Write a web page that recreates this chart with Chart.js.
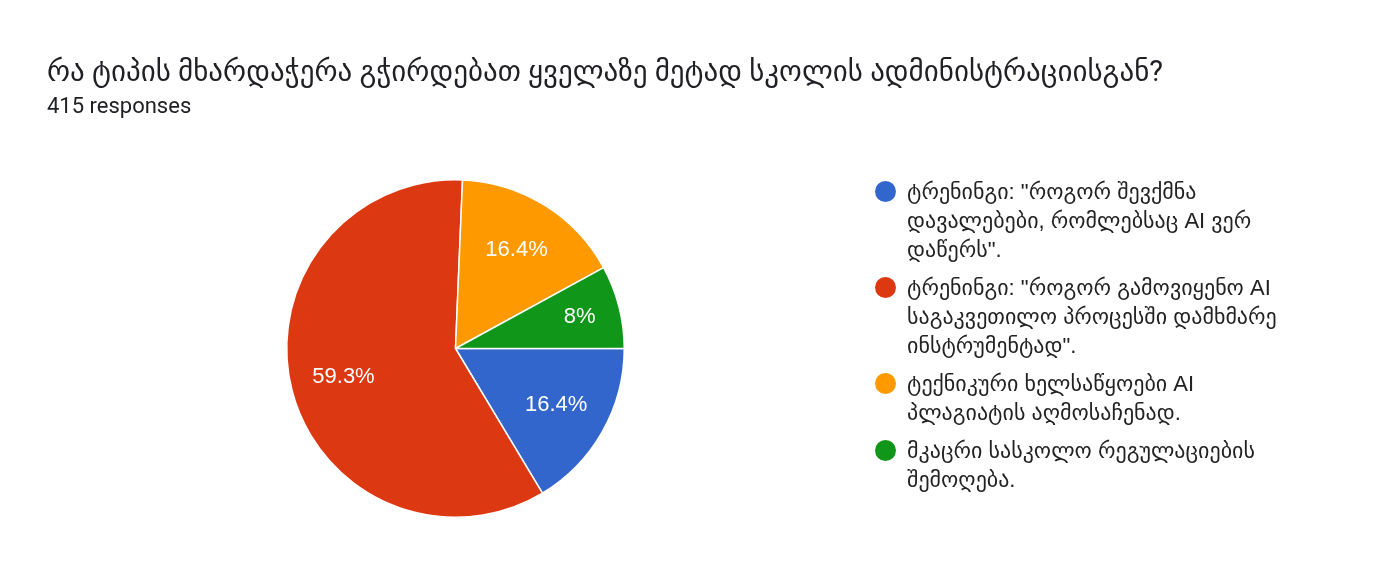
<!DOCTYPE html>
<html>
<head>
<meta charset="utf-8">
<script src="https://cdn.jsdelivr.net/npm/chart.js@4.4.1/dist/chart.umd.min.js"></script>
<style>
  html, body { margin: 0; padding: 0; background: #ffffff; width: 1384px; height: 584px; overflow: hidden; }
  body { font-family: Roboto, "DejaVu Sans", "Noto Sans", sans-serif; }
  #wrap { position: relative; width: 1384px; height: 584px; }
  #c { position: absolute; left: 0; top: 0; }
  #title { position: absolute; left: 47px; top: 51px; font-size: 29px; color: #202124; white-space: nowrap; line-height: 40px; }
  #sub { position: absolute; left: 47px; top: 93px; font-size: 22px; color: #202124; line-height: 26px; }
  #legend { position: absolute; left: 875px; top: 177px; margin: 0; padding: 0; list-style: none; }
  #legend li { position: relative; padding-left: 32px; margin-bottom: 9px; font-family: "Liberation Sans", Arial, "DejaVu Sans", sans-serif; font-size: 22px; line-height: 29px; color: #222222; }
  #legend li .dot { position: absolute; left: 0; top: 4px; width: 21px; height: 21px; border-radius: 50%; }
  #legend li .ln { display: block; white-space: nowrap; }
</style>
</head>
<body>
<div id="wrap">
  <canvas id="c" width="1384" height="584"></canvas>
  <div id="title"></div>
  <div id="sub"></div>
  <ul id="legend"></ul>
</div>
<script>
const titleText = 'რა ტიპის მხარდაჭერა გჭირდებათ ყველაზე მეტად სკოლის ადმინისტრაციისგან?';
const subtitleText = '415 responses';
const categories = [
  ['ტრენინგი: "როგორ შევქმნა', 'დავალებები, რომლებსაც AI ვერ', 'დაწერს".'],
  ['ტრენინგი: "როგორ გამოვიყენო AI', 'საგაკვეთილო პროცესში დამხმარე', 'ინსტრუმენტად".'],
  ['ტექნიკური ხელსაწყოები AI', 'პლაგიატის აღმოსაჩენად.'],
  ['მკაცრი სასკოლო რეგულაციების', 'შემოღება.']
];
const values = [68, 246, 68, 33];
const colors = ['#3366cc', '#dc3912', '#ff9900', '#109618'];

document.getElementById('title').textContent = titleText;
document.getElementById('sub').textContent = subtitleText;

const total = values.reduce((a, b) => a + b, 0);
function pctLabel(v) {
  let s = (v / total * 100).toFixed(1);
  if (s.endsWith('.0')) s = s.slice(0, -2);
  return s + '%';
}

const sliceLabels = {
  id: 'sliceLabels',
  afterDatasetsDraw(chart) {
    const ctx = chart.ctx;
    const meta = chart.getDatasetMeta(0);
    ctx.save();
    ctx.fillStyle = '#ffffff';
    ctx.font = '22px "Liberation Sans", Arial, sans-serif';
    ctx.textAlign = 'center';
    ctx.textBaseline = 'middle';
    meta.data.forEach((arc, i) => {
      const p = arc.getProps(['x', 'y', 'startAngle', 'endAngle', 'outerRadius'], true);
      const span = p.endAngle - p.startAngle;
      const mid = (p.startAngle + p.endAngle) / 2;
      const f = span < 0.1 * Math.PI * 2 ? 0.76 : 0.685;
      const x = p.x + Math.cos(mid) * p.outerRadius * f;
      const y = p.y + Math.sin(mid) * p.outerRadius * f;
      ctx.fillText(pctLabel(chart.data.datasets[0].data[i]), x, y);
    });
    ctx.restore();
  }
};

const chart = new Chart(document.getElementById('c'), {
  type: 'pie',
  data: {
    labels: categories,
    datasets: [{
      data: values,
      backgroundColor: colors,
      borderColor: '#ffffff',
      borderWidth: 1.5,
      hoverOffset: 0
    }]
  },
  options: {
    responsive: false,
    animation: false,
    devicePixelRatio: 1,
    rotation: 90,
    layout: { padding: { left: 286, top: 179, right: 759, bottom: 66 } },
    plugins: {
      legend: { display: false },
      title: { display: false },
      tooltip: { enabled: false }
    }
  },
  plugins: [sliceLabels]
});

const legendEl = document.getElementById('legend');
chart.data.labels.forEach((lines, i) => {
  const li = document.createElement('li');
  const dot = document.createElement('span');
  dot.className = 'dot';
  dot.style.background = chart.data.datasets[0].backgroundColor[i];
  li.appendChild(dot);
  lines.forEach(t => {
    const s = document.createElement('span');
    s.className = 'ln';
    s.textContent = t;
    li.appendChild(s);
  });
  legendEl.appendChild(li);
});
</script>
</body>
</html>
